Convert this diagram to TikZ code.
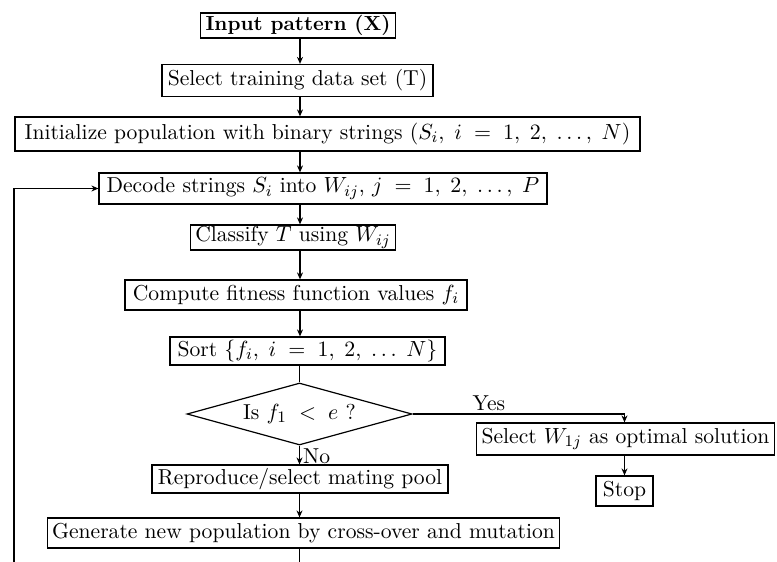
\documentclass[tikz,border=0pt]{standalone}
\usepackage{amsmath,amssymb}
\usepackage{tikz}
\usetikzlibrary{shapes.geometric,arrows.meta}

\tikzset{
  blk/.style={draw, line width=0.6pt, inner ysep=0pt, inner xsep=2.5pt,
              font=\fontsize{10.8}{13}\selectfont},
  dec/.style={blk, diamond, aspect=3.6, inner sep=0pt},
  arr/.style={-{Stealth[length=3.5pt,width=3pt]}, line width=0.6pt},
  ln/.style={line width=0.6pt}
}

\begin{document}
\begin{tikzpicture}[x=0.5pt,y=-0.5pt]
            \useasboundingbox (0,0) rectangle (777,562);
            % main column
            \coordinate (col) at (300,0);
            \coordinate (bl) at (14,562);
            \node[blk, minimum width=95pt, minimum height=12.5pt] (input) at (298,25.5)
                {\fontsize{10.2}{12}\selectfont\textbf{Input pattern (X)}};
            \node[blk, minimum width=135.5pt, minimum height=16pt] (select) at (297.5,80.5)
                {Select training data set (T)};
            \node[blk, minimum width=312.5pt, minimum height=17pt] (init) at (327.5,134)
                {Initialize population with binary strings $(S_i,\; i \;=\; 1,\; 2,\; \ldots,\; N)$};
            \node[blk, minimum width=224pt, minimum height=15.5pt] (decode) at (323,188.5)
                {Decode strings $S_i$ into $W_{ij}$, $j \;=\; 1,\; 2,\; \ldots,\; P$};
            \node[blk, minimum width=102pt, minimum height=12.5pt] (classify) at (293,237.5)
                {Classify $T$ using $W_{ij}$};
            \node[blk, minimum width=171pt, minimum height=15pt] (compute) at (296,295)
                {Compute fitness function values $f_i$};
            \node[blk, minimum width=137.5pt, minimum height=14pt] (sort) at (307.5,351)
                {Sort $\{f_i,\; i \;=\; 1,\; 2,\; \ldots\; N\}$};
            \node[dec, minimum width=112.5pt, minimum height=31pt] (test) at (299.5,414)
                {Is $f_1 \;<\; e$ ?};
            \node[blk, minimum width=148pt, minimum height=14pt] (repro) at (300,479)
                {Reproduce/select mating pool};
            \node[blk, minimum width=254.5pt, minimum height=15pt] (gen) at (303.5,533)
                {Generate new population by cross-over and mutation};
            \node[blk, minimum width=147pt, minimum height=16pt, anchor=east] (selw) at (775,439)
                {Select $W_{1j}$ as optimal solution};
            \node[blk, minimum width=28.5pt, minimum height=15pt] (stop) at (624.5,491)
                {Stop};
            % connectors
            \foreach \a/\b in {input/select, select/init, init/decode,
                               decode/classify, classify/compute, compute/sort}
                \draw[arr] (\a.south -| col) -- (\b.north -| col);
            \draw[ln] (sort.south -| test.north) -- (test.north);
            \draw[arr] (test.south) -- (repro.north -| test.south)
                node[pos=0.55, right, inner sep=1.5pt, font=\fontsize{10.8}{13}\selectfont] {No};
            \draw[arr] (repro.south -| test.south) -- (gen.north -| test.south);
            \draw[ln] (gen.south -| test.south) -- (bl -| test.south);
            \draw[arr] (bl) |- (decode.west);
            \draw[arr] (test.east) -| (selw.north -| stop)
                node[pos=0.18, above, inner sep=1.5pt, font=\fontsize{10.8}{13}\selectfont] {Yes};
            \draw[arr] (selw.south -| stop) -- (stop.north);
        \end{tikzpicture}
\end{document}
